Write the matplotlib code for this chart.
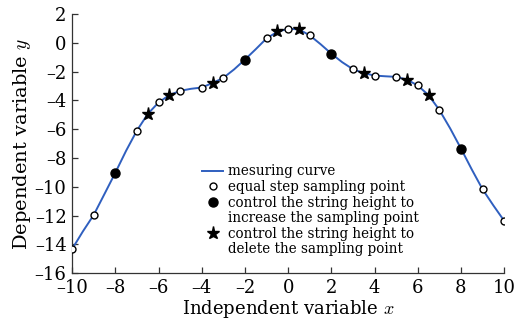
import matplotlib
matplotlib.use("Agg")
import matplotlib.pyplot as plt
from matplotlib.lines import Line2D

curve_x = [-10, -9.5, -9, -8.5, -8, -7.5, -7, -6.5, -6, -5.5, -5, -4.5, -4, -3.5, -3, -2.5, -2, -1.5, -1, -0.5,
           0, 0.5, 1, 1.5, 2, 2.5, 3, 3.5, 4, 4.5, 5, 5.5, 6, 6.5, 7, 7.5, 8, 8.5, 9, 9.5, 10]
curve_y = [-14.33, -13.1, -11.96, -10.5, -9.03, -7.5, -6.10, -4.95, -4.15, -3.64, -3.34, -3.2, -3.11, -2.80, -2.44,
           -1.85, -1.17, -0.45, 0.30, 0.76, 0.97, 0.93, 0.51, -0.1, -0.76, -1.35, -1.84, -2.11, -2.28, -2.33,
           -2.37, -2.56, -2.97, -3.64, -4.67, -5.95, -7.35, -8.8, -10.18, -11.3, -12.37]

# equal step sampling points
eq_x = [-10, -9, -7, -6, -5, -4, -3, -1, 0, 1, 3, 4, 5, 6, 7, 9, 10]
eq_y = [-14.33, -11.96, -6.10, -4.15, -3.34, -3.11, -2.44, 0.30, 0.97, 0.51, -1.84, -2.28, -2.37, -2.97, -4.67,
        -10.18, -12.37]

# increased sampling points
inc_x = [-8, -2, 2, 8]
inc_y = [-9.03, -1.17, -0.76, -7.38]

# deleted sampling points
del_x = [-6.5, -5.5, -3.5, -0.5, 0.5, 3.5, 5.5, 6.5]
del_y = [-4.95, -3.64, -2.80, 0.78, 0.95, -2.11, -2.56, -3.64]

xticks = [-10, -8, -6, -4, -2, 0, 2, 4, 6, 8, 10]
yticks = [2, 0, -2, -4, -6, -8, -10, -12, -14, -16]

plt.rcParams['font.family'] = ['DejaVu Serif']
plt.rcParams['mathtext.fontset'] = 'cm'

fig = plt.figure(figsize=(5.15, 3.24), dpi=100)
ax = fig.add_axes([0.14, 0.157, 0.839, 0.8])

blue = '#2f5fbf'
ax.plot(curve_x, curve_y, color=blue, lw=1.4, zorder=2)
ax.plot(eq_x, eq_y, 'o', mfc='white', mec='black', ms=5, mew=1.0, ls='none', zorder=3)
ax.plot(inc_x, inc_y, 'o', mfc='black', mec='black', ms=6.5, ls='none', zorder=3)
ax.plot(del_x, del_y, '*', mfc='black', mec='black', ms=9.5, ls='none', zorder=4)

ax.set_xlim(-10, 10)
ax.set_ylim(-16, 2)
ax.set_xticks(xticks)
ax.set_yticks(yticks)
ax.set_xticklabels(['\u2013' + str(-t) if t < 0 else str(t) for t in xticks])
ax.set_yticklabels(['\u2013' + str(-t) if t < 0 else str(t) for t in yticks])
for s in ['top', 'right']:
    ax.spines[s].set_visible(False)
for s in ['left', 'bottom']:
    ax.spines[s].set_color('#333333')
    ax.spines[s].set_linewidth(0.9)
ax.tick_params(direction='in', length=4, width=0.9, colors='#333333', labelcolor='black', labelsize=13)
ax.tick_params(axis='x', pad=4)
ax.tick_params(axis='y', pad=4)

ax.set_xlabel('Independent variable $x$', fontsize=13, labelpad=1)
ax.set_ylabel('Dependent variable $y$', fontsize=14, labelpad=1)

handles = [
    Line2D([], [], color=blue, lw=1.4),
    Line2D([], [], marker='o', mfc='white', mec='black', ms=5, ls='none'),
    Line2D([], [], marker='o', mfc='black', mec='black', ms=6.5, ls='none'),
    Line2D([], [], ls='none'),
    Line2D([], [], marker='*', mfc='black', mec='black', ms=9.5, ls='none'),
    Line2D([], [], ls='none'),
]
labels = ['mesuring curve', 'equal step sampling point', 'control the string height to',
          'increase the sampling point', 'control the string height to', 'delete the sampling point']
leg = ax.legend(handles, labels, frameon=False, fontsize=9.75, loc='upper left',
                bbox_to_anchor=(0.301, 0.42), borderaxespad=0, handlelength=1.55, handletextpad=0.35,
                labelspacing=0.12, borderpad=0)

fig.savefig('out.png', dpi=100)
